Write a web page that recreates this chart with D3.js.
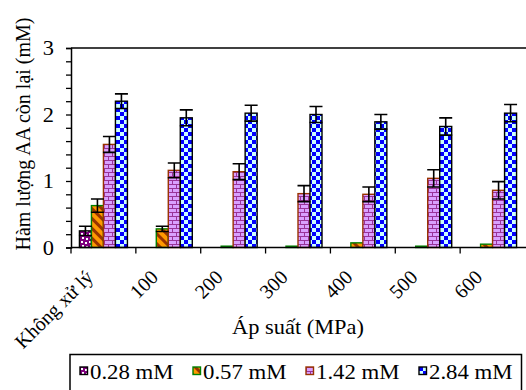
<!DOCTYPE html>
<html>
<head>
<meta charset="utf-8">
<script src="https://cdn.jsdelivr.net/npm/d3@7"></script>
<style>
  html, body { margin: 0; padding: 0; background: #fff; }
  svg { display: block; }
  text { font-family: "Liberation Serif", "Times New Roman", serif; fill: #000; }
</style>
</head>
<body>
<svg id="chart" width="526" height="390"></svg>
<script>
// Remaining ascorbic acid by pressure treatment, four starting concentrations
const categories = ["Không xử lý", "100", "200", "300", "400", "500", "600"];
const seriesNames = ["0.28 mM", "0.57 mM", "1.42 mM", "2.84 mM"];
const v028 = [0.25, 0, 0, 0, 0, 0, 0];
const v057 = [0.63, 0.28, 0.02, 0.02, 0.07, 0.02, 0.05];
const v142 = [1.55, 1.16, 1.14, 0.81, 0.80, 1.04, 0.86];
const v284 = [2.20, 1.95, 2.02, 2.00, 1.89, 1.82, 2.02];
const e028 = [0.07, 0, 0, 0, 0, 0, 0];
const e057 = [0.10, 0.04, 0, 0, 0, 0, 0];
const e142 = [0.12, 0.11, 0.12, 0.12, 0.11, 0.13, 0.13];
const e284 = [0.11, 0.12, 0.12, 0.12, 0.11, 0.13, 0.13];
const yTicks = [0, 1, 2, 3];
const yTitle = "Hàm lượng AA còn lại (mM)";
const xTitle = "Áp suất (MPa)";

const values = [v028, v057, v142, v284];
const errors = [e028, e057, e142, e284];

const svg = d3.select("#chart");
const plotL = 71, plotR = 525, plotT = 48, plotB = 247.5;

// Fill patterns for each series
const defs = svg.append("defs");
const p1 = defs.append("pattern").attr("id", "pat0").attr("patternUnits", "userSpaceOnUse")
  .attr("width", 8).attr("height", 8);
p1.append("rect").attr("width", 8).attr("height", 8).attr("fill", "#800080");
[[1,1],[5,2],[2,5],[6,6]].forEach(([x, y]) =>
  p1.append("rect").attr("x", x).attr("y", y).attr("width", 2).attr("height", 2).attr("fill", "#fff"));

const p2 = defs.append("pattern").attr("id", "pat1").attr("patternUnits", "userSpaceOnUse")
  .attr("width", 7).attr("height", 7).attr("patternTransform", "rotate(-45)");
p2.append("rect").attr("width", 7).attr("height", 7).attr("fill", "#FF9900");
p2.append("rect").attr("width", 3).attr("height", 7).attr("fill", "#993300");

const p3 = defs.append("pattern").attr("id", "pat2").attr("patternUnits", "userSpaceOnUse")
  .attr("width", 8).attr("height", 8);
p3.append("rect").attr("width", 8).attr("height", 8).attr("fill", "#D9A0FF");
p3.append("path").attr("d", "M0,0.5H8M0,4.5H8M0.5,0V4.5M4.5,4.5V8")
  .attr("stroke", "#993399").attr("stroke-width", 1).attr("fill", "none");

const p4 = defs.append("pattern").attr("id", "pat3").attr("patternUnits", "userSpaceOnUse")
  .attr("width", 8).attr("height", 8);
p4.append("rect").attr("width", 8).attr("height", 8).attr("fill", "#CCFFFF");
p4.append("rect").attr("width", 4).attr("height", 4).attr("fill", "#0000FF");
p4.append("rect").attr("x", 4).attr("y", 4).attr("width", 4).attr("height", 4).attr("fill", "#0000FF");

const borders = ["#000000", "#008000", "#993300", "#000000"];

const x0 = d3.scaleBand().domain(categories).range([plotL, plotR]).padding(0);
const bw = x0.bandwidth();
const x1 = d3.scaleBand().domain(seriesNames).range([bw * 0.13, bw * 0.87]).padding(0);
const y = d3.scaleLinear().domain([0, 3]).range([plotB, plotT]);

// Plot frame top edge
svg.append("line").attr("x1", plotL).attr("x2", 526).attr("y1", plotT).attr("y2", plotT)
  .attr("stroke", "#000").attr("stroke-width", 1.5);

// Bars
seriesNames.forEach((s, si) => {
  const g = svg.append("g");
  categories.forEach((c, ci) => {
    const v = values[si][ci];
    if (v <= 0) return;
    g.append("rect")
      .attr("x", x0(c) + x1(s))
      .attr("y", y(v))
      .attr("width", x1.bandwidth())
      .attr("height", y(0) - y(v))
      .attr("fill", `url(#pat${si})`)
      .attr("stroke", borders[si])
      .attr("stroke-width", 1.4);
  });
});

// Error bars
seriesNames.forEach((s, si) => {
  categories.forEach((c, ci) => {
    const v = values[si][ci], e = errors[si][ci];
    if (!(e > 0) || v <= 0) return;
    const cx = x0(c) + x1(s) + x1.bandwidth() / 2;
    const hw = x1.bandwidth() / 2 + 0.5;
    const path = d3.path();
    path.moveTo(cx, y(v + e)); path.lineTo(cx, y(v - e));
    path.moveTo(cx - hw, y(v + e)); path.lineTo(cx + hw, y(v + e));
    path.moveTo(cx - hw, y(v - e)); path.lineTo(cx + hw, y(v - e));
    svg.append("path").attr("d", path.toString())
      .attr("stroke", "#000").attr("stroke-width", 1.6).attr("fill", "none");
  });
});

// Y axis with minor ticks every 0.2
const yAxis = svg.append("g").attr("transform", `translate(${plotL},0)`)
  .call(d3.axisLeft(y).tickValues(d3.range(0, 3.001, 0.2)).tickSize(5).tickFormat(""));
yAxis.select(".domain").attr("stroke-width", 1.5);
yAxis.selectAll(".tick line").attr("stroke-width", 1.3);
svg.append("g").selectAll("text").data(yTicks).join("text")
  .attr("transform", d => `translate(54,${y(d)}) scale(1.12,1)`)
  .attr("text-anchor", "end").attr("dy", "0.35em")
  .attr("font-size", 20).text(d => d);

// X axis with ticks at category boundaries
const xAxis = svg.append("g").attr("transform", `translate(0,${plotB})`);
xAxis.append("line").attr("x1", plotL).attr("x2", 526).attr("stroke", "#000").attr("stroke-width", 1.5);
xAxis.selectAll("line.tk").data(categories).join("line").attr("class", "tk")
  .attr("x1", d => x0(d)).attr("x2", d => x0(d)).attr("y1", 0).attr("y2", 6)
  .attr("stroke", "#000").attr("stroke-width", 1.3);
svg.append("g").selectAll("text").data(categories).join("text")
  .attr("transform", d => `translate(${x0(d) + bw / 2 - 9},${plotB + 31}) rotate(-45)`)
  .attr("text-anchor", "end").attr("font-size", 20).text(d => d);

// Axis titles
svg.append("text")
  .attr("transform", `translate(${(plotL + plotR) / 2},334) scale(1.12,1)`)
  .attr("text-anchor", "middle").attr("font-size", 20).text(xTitle);
svg.append("text")
  .attr("transform", "translate(30,134) rotate(-90)")
  .attr("text-anchor", "middle").attr("font-size", 20).text(yTitle);

// Legend
svg.append("rect").attr("x", 70).attr("y", 354.5).attr("width", 451.5).attr("height", 40)
  .attr("fill", "#fff").attr("stroke", "#000").attr("stroke-width", 1.5);
const legX = [80, 193, 306, 419];
const leg = svg.append("g").selectAll("g").data(seriesNames).join("g")
  .attr("transform", (d, i) => `translate(${legX[i]},367)`);
leg.append("rect").attr("width", 7.5).attr("height", 7.5)
  .attr("fill", (d, i) => `url(#pat${i})`)
  .attr("stroke", (d, i) => borders[i]).attr("stroke-width", 1.4);
leg.append("text")
  .attr("transform", "translate(10,12.3) scale(1.14,1)")
  .attr("font-size", 20).text(d => d);
</script>
</body>
</html>
